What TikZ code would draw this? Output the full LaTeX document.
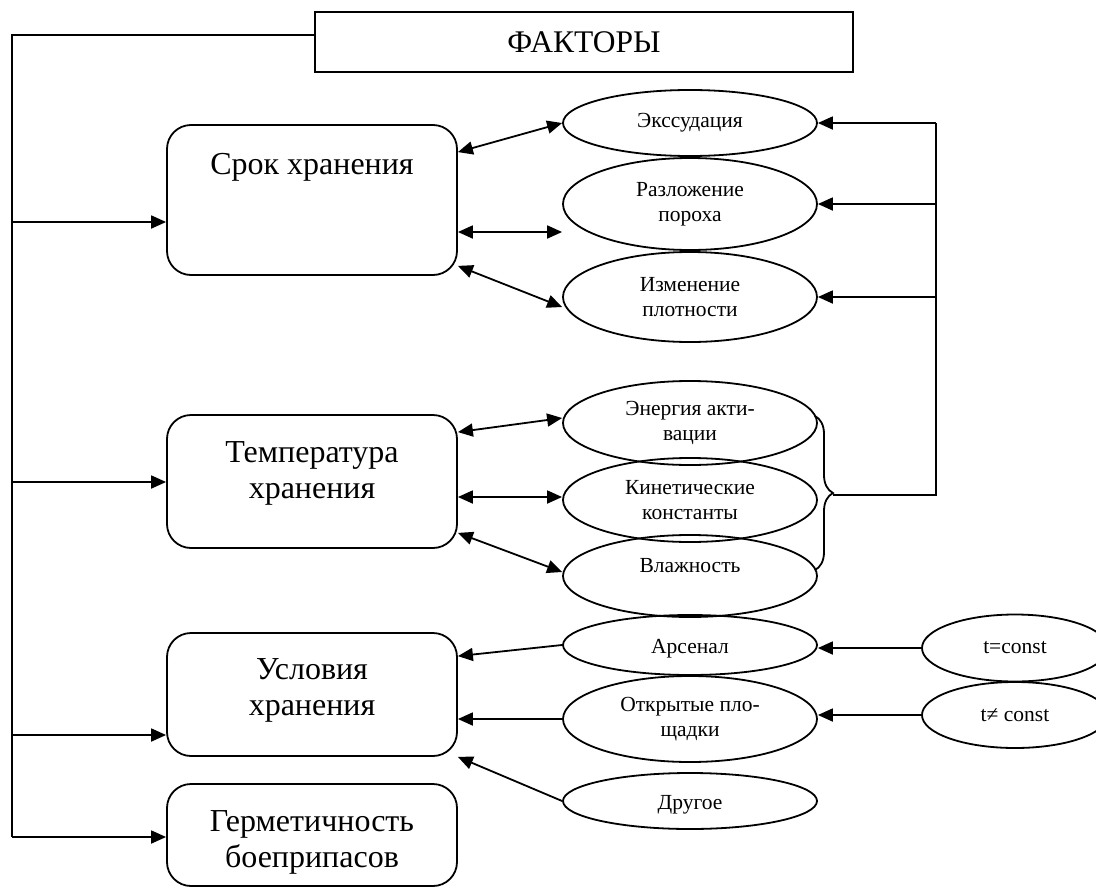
\documentclass[tikz,border=0pt]{standalone}
\usepackage{fontspec}
\setmainfont{Liberation Serif}
\usetikzlibrary{arrows.meta,shapes.geometric,decorations.pathreplacing}
\newcommand\twoln[3]{\raisebox{#1}[0pt][0pt]{\begin{tabular}[b]{@{}c@{}}#2\\#3\end{tabular}}}
\begin{document}
\begin{tikzpicture}[x=1pt,y=-1pt,line width=1.8pt,
  fbox/.style={draw,rounded corners=24pt,minimum width=290pt,inner sep=0pt,font=\fontsize{32}{36}\selectfont},
  ell/.style={draw,ellipse,inner sep=0pt,minimum width=254pt,align=center,font=\fontsize{21.5}{25}\selectfont},
  arr/.style={-{Triangle[length=15pt,width=13pt]}},
  darr/.style={{Triangle[length=15pt,width=13pt]}-{Triangle[length=15pt,width=13pt]}}]
\clip (0,0) rectangle (1096,889);
% top box
\node[draw,minimum width=538pt,minimum height=60pt,inner sep=0pt,font=\fontsize{31.5}{36}\selectfont] (fak) at (584,42) {ФАКТОРЫ};
% left boxes
\node[fbox,minimum height=150pt] (srok) at (312,200) {\raisebox{26pt}[0pt][0pt]{Срок хранения}};
\node[fbox,minimum height=133pt] (temp) at (312,481.5) {\twoln{-16.5pt}{Температура}{хранения}};
\node[fbox,minimum height=123pt] (usl) at (312,694.5) {\twoln{-20.5pt}{Условия}{хранения}};
\node[fbox,minimum height=102pt] (germ) at (312,835) {\twoln{-32pt}{Герметичность}{боеприпасов}};
% ellipses
\node[ell,minimum height=66pt] (eks) at (690,123) {Экссудация};
\node[ell,minimum height=92pt] (raz) at (690,204) {Разложение\\пороха};
\node[ell,minimum height=90pt] (izm) at (690,297) {Изменение\\плотности};
\node[ell,minimum height=84pt] (ener) at (690,423) {Энергия акти-\\вации};
\node[ell,minimum height=84pt] (kin) at (690,500) {Кинетические\\константы};
\node[ell,minimum height=82pt] (vla) at (690,576) {\raisebox{4pt}[0pt][0pt]{Влажность}};
\node[ell,minimum height=60pt] (ars) at (690,645) {\raisebox{-8pt}[0pt][0pt]{Арсенал}};
\node[ell,minimum height=86pt] (otk) at (690,719) {Открытые пло-\\щадки};
\node[ell,minimum height=56pt] (dru) at (690,801) {\raisebox{-8pt}[0pt][0pt]{Другое}};
\node[ell,minimum width=186pt,minimum height=67pt] (tc1) at (1015,648) {t=const};
\node[ell,minimum width=186pt,minimum height=66pt] (tc2) at (1015,715) {t≠ const};
% left trunk
\coordinate (b1) at (12,222);
\coordinate (b2) at (12,482);
\coordinate (b3) at (12,735);
\coordinate (b4) at (12,837);
\draw ([yshift=7pt]fak.west) -| (b4);
\draw[arr] (b1) -- (b1 -| srok.west);
\draw[arr] (b2) -- (b2 -| temp.west);
\draw[arr] (b3) -- (b3 -| usl.west);
\draw[arr] (b4) -- (b4 -| germ.west);
% double arrows
\draw[darr] ([yshift=-28pt]srok.north east) -- (eks.west);
\draw[darr] ([yshift=-32pt]srok.east) -- ([yshift=-28pt]raz.west);
\draw[darr] ([yshift=10pt]srok.south east) -- ([yshift=-10pt]izm.west);
\draw[darr] ([yshift=-18pt]temp.north east) -- ([yshift=5pt]ener.west);
\draw[darr] ([yshift=-15.5pt]temp.east) -- ([yshift=-15.5pt]temp.east -| kin.west);
\draw[darr] ([yshift=16pt]temp.south east) -- ([yshift=4pt]vla.west);
% into conditions box
\draw[arr] (ars.west) -- ([yshift=-24pt]usl.north east);
\draw[arr] (otk.west) -- (otk.west -| usl.east);
\draw[arr] (dru.west) -- (usl.south east);
\draw[arr] (tc1.west) -- (tc1.west -| ars.east);
\draw[arr] (tc2.west) -- (tc2.west -| otk.east);
% brace and right trunk
\coordinate (bt) at (815,416);
\coordinate (bb) at (815,570);
\coordinate (btip) at (833,495);
\draw[decorate,decoration={brace,amplitude=18pt}] (bt) -- (bb);
\coordinate (r1) at (936,123);
\coordinate (r2) at (936,204);
\coordinate (r3) at (936,297);
\draw (btip) -| (r1);
\draw[arr] (r1) -- (eks.east);
\draw[arr] (r2) -- (raz.east);
\draw[arr] (r3) -- (izm.east);
\end{tikzpicture}
\end{document}
